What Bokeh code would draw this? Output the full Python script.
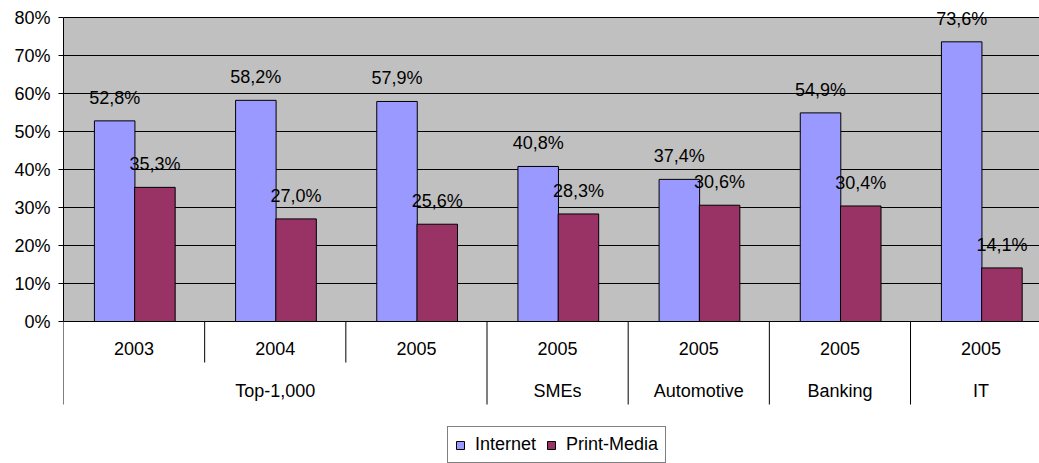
from bokeh.plotting import figure
from bokeh.models import Range1d, FixedTicker, NumeralTickFormatter, ColumnDataSource
from bokeh.core.properties import value
from bokeh.embed import file_html
from bokeh.resources import INLINE

# Share of recruiting channel use, by segment and year
years = ["2003", "2004", "2005", "2005", "2005", "2005", "2005"]
segments = ["Top-1,000", "SMEs", "Automotive", "Banking", "IT"]
segment_spans = [(0, 3), (3, 4), (4, 5), (5, 6), (6, 7)]
internet = [52.8, 58.2, 57.9, 40.8, 37.4, 54.9, 73.6]
print_media = [35.3, 27.0, 25.6, 28.3, 30.6, 30.4, 14.1]
y_ticks = [0.0, 0.1, 0.2, 0.3, 0.4, 0.5, 0.6, 0.7, 0.8]

FONT = "Liberation Sans"
FS = "18px"
INTERNET_COLOR = "#9999FF"
PRINT_COLOR = "#993366"

n = len(years)
bar_w = 0.287
center_off = 0.505
half_gap = 0.1425

# 380 px per 100 %; the frame runs from the top of the page to its bottom
p = figure(width=1039, height=463, output_backend="svg", toolbar_location=None,
           x_range=Range1d(0, 976 / 141.17),
           y_range=Range1d(-142 / 380, 0.8 + 17 / 380),
           x_axis_location=None, min_border_left=63, min_border_right=0,
           min_border_top=0, min_border_bottom=0)
p.outline_line_color = None
p.background_fill_color = "white"
p.border_fill_color = "white"

# plot-area background
p.quad(left=[0], right=[n + 1], bottom=[0], top=[0.8],
       fill_color="#C0C0C0", line_color=None, level="image")

# horizontal grid
p.xgrid.visible = False
p.ygrid.ticker = FixedTicker(ticks=y_ticks)
p.ygrid.grid_line_color = "black"
p.ygrid.grid_line_width = 1

# value axis
yax = p.yaxis[0]
yax.ticker = FixedTicker(ticks=y_ticks)
yax.formatter = NumeralTickFormatter(format="0%")
yax.bounds = (0, 0.8)
yax.axis_line_color = "black"
yax.major_tick_line_color = "black"
yax.major_tick_in = 0
yax.major_tick_out = 5
yax.minor_tick_line_color = None
yax.major_label_standoff = 8
yax.major_label_text_font = FONT
yax.major_label_text_font_size = FS
yax.major_label_text_color = "black"

x_int = [i + center_off - half_gap for i in range(n)]
x_pr = [i + center_off + half_gap for i in range(n)]

src = ColumnDataSource(dict(
    x_int=x_int, x_pr=x_pr,
    internet=[v / 100 for v in internet],
    print_media=[v / 100 for v in print_media],
    lab_int=[f"{v:.1f}".replace(".", ",") + "%" for v in internet],
    lab_pr=[f"{v:.1f}".replace(".", ",") + "%" for v in print_media],
))

p.vbar(x="x_int", top="internet", bottom=0, width=bar_w, source=src,
       fill_color=INTERNET_COLOR, line_color="black", line_width=1,
       legend_label="Internet")
p.vbar(x="x_pr", top="print_media", bottom=0, width=bar_w, source=src,
       fill_color=PRINT_COLOR, line_color="black", line_width=1,
       legend_label="Print-Media")

for xcol, ycol, tcol in (("x_int", "internet", "lab_int"), ("x_pr", "print_media", "lab_pr")):
    p.text(x=xcol, y=ycol, text=tcol, source=src, y_offset=-23,
           text_align="center", text_baseline="alphabetic",
           text_font=value(FONT), text_font_size=FS, text_color="black")

# two-level category axis
row1_y = -27 / 380
row2_y = -69 / 380
short_len = -41 / 380
long_len = -83 / 380

p.text(x=[i + 0.5 for i in range(n)], y=[row1_y] * n, text=years,
       text_align="center", text_baseline="middle",
       text_font=value(FONT), text_font_size=FS, text_color="black")
p.text(x=[(a + b) / 2 for a, b in segment_spans], y=[row2_y] * len(segments),
       text=segments, text_align="center", text_baseline="middle",
       text_font=value(FONT), text_font_size=FS, text_color="black")

group_edges = sorted({a for a, b in segment_spans} | {b for a, b in segment_spans})
inner_edges = [i for i in range(n + 1) if i not in group_edges]
p.segment(x0=inner_edges, x1=inner_edges, y0=[0] * len(inner_edges),
          y1=[short_len] * len(inner_edges), line_color="black", line_width=1)
p.segment(x0=group_edges, x1=group_edges, y0=[0] * len(group_edges),
          y1=[long_len] * len(group_edges), line_color="black", line_width=1)

# legend
lg = p.legend[0]
lg.orientation = "horizontal"
lg.location = (384, 0)
lg.label_text_font = FONT
lg.label_text_font_size = FS
lg.label_text_color = "black"
lg.glyph_width = 10
lg.glyph_height = 10
lg.label_standoff = 10
lg.spacing = 10
lg.padding = 7
lg.margin = 0
lg.border_line_color = "black"
lg.border_line_width = 1
lg.background_fill_color = "white"
lg.background_fill_alpha = 1.0

open("out.html", "w").write(file_html(p, INLINE))
